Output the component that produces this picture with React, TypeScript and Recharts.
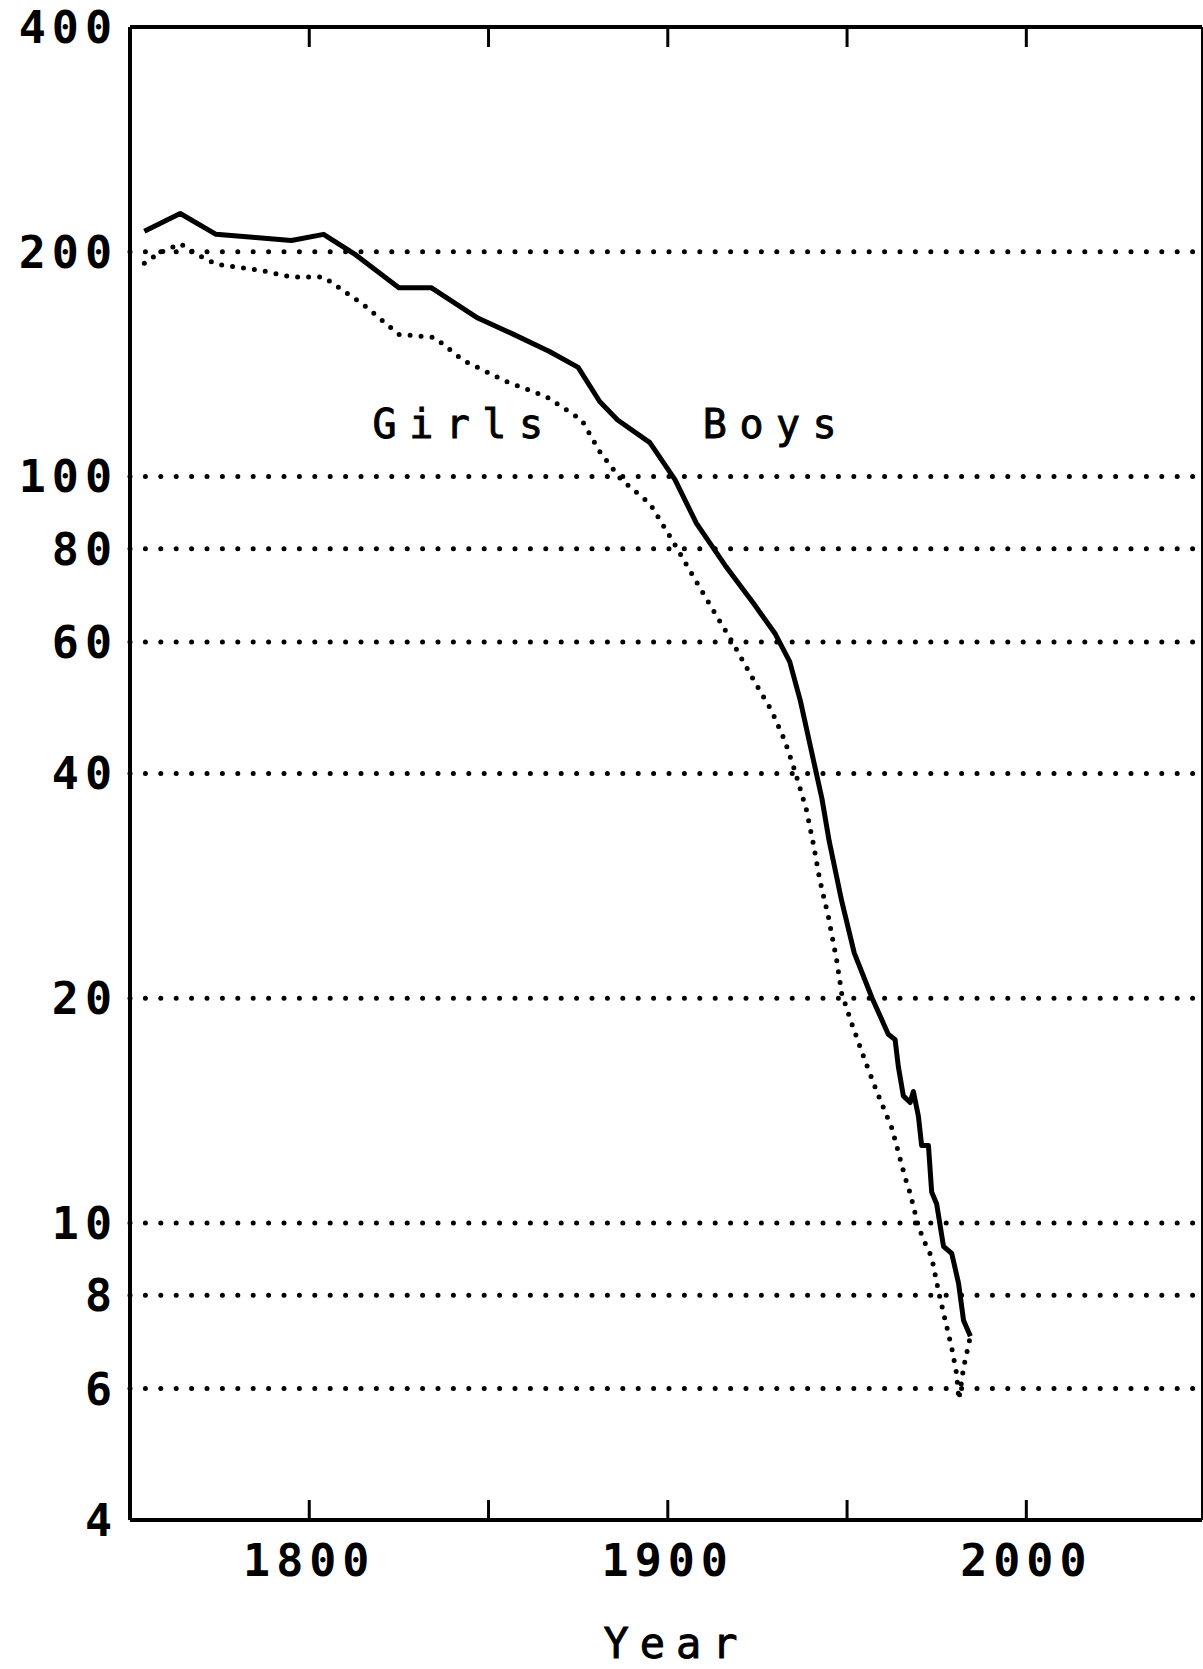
import React from "react";
import {
  LineChart,
  Line,
  XAxis,
  YAxis,
  ReferenceLine,
  ReferenceDot,
} from "recharts";

// boys: solid line
const boysYears = [
  1754, 1764, 1774, 1785, 1795, 1804, 1813, 1825, 1834, 1847, 1857, 1867,
  1875, 1881, 1886, 1895, 1902, 1908, 1916, 1924, 1930, 1934, 1937, 1940,
  1943, 1945, 1948.5, 1952, 1957, 1961.5, 1963.4, 1964.3, 1965.7, 1967.6,
  1968.5, 1969.9, 1970.8, 1972.7, 1973.6, 1975, 1976.9, 1979.2, 1981.1,
  1982.5, 1984.4,
];
const boysRates = [
  213, 225, 211, 209, 207, 211, 198, 179, 179, 163, 155, 147, 140, 126, 119,
  111, 99, 86.5, 76, 67.5, 61.5, 56.5, 50, 43, 37, 32.5, 27, 23, 20, 17.9,
  17.6, 16.2, 14.8, 14.5, 15.0, 13.9, 12.7, 12.7, 11.0, 10.6, 9.3, 9.1, 8.3,
  7.4, 7.05,
];

// girls: dotted line
const girlsYears = [
  1754, 1758, 1764, 1769, 1774, 1787, 1795, 1804, 1815, 1825, 1835, 1843,
  1855, 1866, 1876, 1881, 1887, 1895, 1902, 1906, 1912, 1918, 1924, 1929,
  1932.6, 1935.4, 1938.7, 1940.6, 1942.4, 1944.8, 1947.1, 1948.5, 1951.3,
  1955, 1958.3, 1962.5, 1966.2, 1967.5, 1969.9, 1971.3, 1973.6, 1975.5,
  1977.4, 1979.2, 1980.5, 1981.2, 1982.5, 1984.4,
];
const girlsRates = [
  193, 199, 205, 198, 192.5, 188.6, 185, 185, 170, 155, 153.5, 143, 134, 128,
  119, 108, 99, 92, 81, 75, 67, 60, 53.3, 48.5, 44.3, 40.4, 35.7, 32.2, 28.8,
  25.7, 22.5, 20.3, 18.5, 16.5, 15, 13.4, 11.5, 11.0, 9.9, 9.5, 9.0, 8.1, 7.4,
  6.8, 6.3, 5.8, 6.4, 7.05,
];

const yTicks = [4, 6, 8, 10, 20, 40, 60, 80, 100, 200, 400];
const gridValues = [6, 8, 10, 20, 40, 60, 80, 100, 200];
const xTicks = [1750, 1800, 1850, 1900, 1950, 2000];
const xLabelled = [1800, 1900, 2000];
const topTicks = [1800, 1850, 1900, 1950, 2000];

const boysData = boysYears.map((year, i) => ({ year, rate: boysRates[i] }));
const girlsData = girlsYears.map((year, i) => ({ year, rate: girlsRates[i] }));

const labelFont = "'DejaVu Sans Mono', monospace";

const seriesLabel = (text: string) => (props: any) => {
  const vb = props.viewBox || {};
  return (
    <text
      x={vb.x + 6}
      y={vb.y}
      textAnchor="middle"
      fontFamily={labelFont}
      fontSize={40}
      letterSpacing={12.5}
      stroke="#000"
      strokeWidth={0.9}
      fill="#000"
    >
      {text}
    </text>
  );
};

const yearLabel = (props: any) => {
  const vb = props.viewBox || {};
  return (
    <text
      x={676}
      y={vb.y + 138}
      textAnchor="middle"
      fontFamily={labelFont}
      fontSize={42}
      letterSpacing={11}
      stroke="#000"
      strokeWidth={0.9}
      fill="#000"
    >
      Year
    </text>
  );
};

const tickFont = {
  fill: "#000",
  fontSize: 45,
  fontFamily: labelFont,
  fontWeight: "bold",
  letterSpacing: 6,
};

// small inward tick on the top frame, drawn from the top line
const TopTick = (props: any) => {
  const x = props.x1 ?? props.x;
  const y = Math.min(props.y1 ?? 0, props.y2 ?? 0);
  return <line x1={x} x2={x} y1={y} y2={y + 20} stroke="#000" strokeWidth={3} />;
};

export default function App() {
  return (
    <div style={{ width: 1203, height: 1669, background: "#fff" }}>
      <style>{"body{margin:0;background:#fff}"}</style>
      <LineChart
        width={1203}
        height={1669}
        margin={{ top: 27, right: 1, left: 0, bottom: 0 }}
      >
        <XAxis
          dataKey="year"
          type="number"
          domain={[1750, 2049]}
          allowDataOverflow
          ticks={xTicks}
          interval={0}
          height={149}
          tickSize={-20}
          tickMargin={44}
          tickLine={{ stroke: "#000", strokeWidth: 3 }}
          axisLine={{ stroke: "#000", strokeWidth: 4 }}
          tickFormatter={(v: number) => (xLabelled.includes(v) ? String(v) : "")}
          tick={tickFont}
          label={{ content: yearLabel }}
        />
        <YAxis
          dataKey="rate"
          scale="log"
          domain={[4, 400]}
          allowDataOverflow
          ticks={yTicks}
          interval={0}
          width={130}
          tickLine={false}
          tickSize={0}
          tickMargin={12}
          axisLine={{ stroke: "#000", strokeWidth: 4 }}
          tick={tickFont}
        />

        {gridValues.map((v) => (
          <ReferenceLine
            key={v}
            y={v}
            stroke="#000"
            strokeWidth={5}
            strokeDasharray="0 15.4"
            strokeLinecap="round"
          />
        ))}
        <ReferenceLine y={400} stroke="#000" strokeWidth={4} />
        <ReferenceLine x={2049} stroke="#000" strokeWidth={2} />
        {topTicks.map((t) => (
          <ReferenceLine key={"t" + t} x={t} shape={TopTick} />
        ))}

        <Line
          data={boysData}
          dataKey="rate"
          type="linear"
          stroke="#000"
          strokeWidth={5}
          strokeLinejoin="round"
          dot={false}
          activeDot={false}
          isAnimationActive={false}
        />
        <Line
          data={girlsData}
          dataKey="rate"
          type="linear"
          stroke="#000"
          strokeWidth={5}
          strokeDasharray="0 11"
          strokeLinecap="round"
          dot={false}
          activeDot={false}
          isAnimationActive={false}
        />

        <ReferenceDot
          x={1841.5}
          y={112.7}
          r={0}
          stroke="none"
          fill="none"
          label={{ content: seriesLabel("Girls") }}
        />
        <ReferenceDot
          x={1928.5}
          y={112.7}
          r={0}
          stroke="none"
          fill="none"
          label={{ content: seriesLabel("Boys") }}
        />
      </LineChart>
    </div>
  );
}
